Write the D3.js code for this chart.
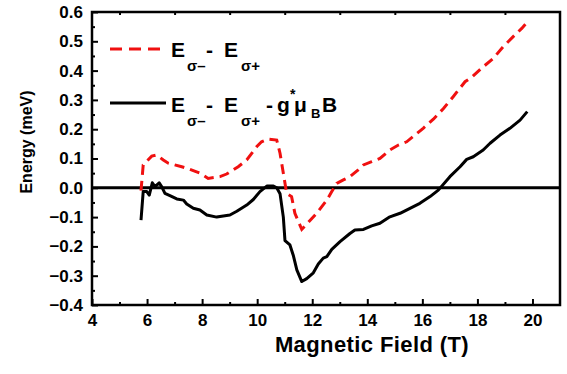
<!DOCTYPE html>
<html>
<head>
<meta charset="utf-8">
<script src="https://d3js.org/d3.v7.min.js"></script>
<style>
	body { margin: 0; background: #fff; }
	svg { display: block; font-family: "Liberation Sans", Arial, sans-serif; }
</style>
</head>
<body>
<div id="chart"></div>
<script>

// field values (T) and energies (meV)
var fieldCorr = [5.78, 5.86, 5.99, 6.08, 6.19, 6.29, 6.44, 6.53, 6.65, 6.83, 7.08, 7.32, 7.44, 7.68, 7.92, 8.17, 8.53, 8.77, 9.01, 9.26,
	9.62, 9.86, 10.1, 10.35, 10.59, 10.71, 10.83, 10.95, 11.01, 11.19, 11.31, 11.44, 11.62, 11.8, 12.04, 12.22, 12.4, 12.53, 12.71, 13.01,
	13.37, 13.55, 13.86, 14.16, 14.46, 14.82, 15.19, 15.55, 15.91, 16.28, 16.58, 17.0, 17.37, 17.61, 17.85, 18.21, 18.46, 18.82, 19.18, 19.55, 19.81];
var energyCorr = [-0.11, -0.013, -0.013, -0.025, 0.017, 0.004, 0.017, 0.004, -0.019, -0.027, -0.038, -0.042, -0.055, -0.07, -0.076, -0.093, -0.1, -0.096, -0.093, -0.08,
	-0.059, -0.04, -0.013, 0.006, 0.006, 0.0, -0.02, -0.1, -0.18, -0.195, -0.23, -0.28, -0.32, -0.31, -0.29, -0.26, -0.24, -0.235, -0.21, -0.184,
	-0.156, -0.144, -0.142, -0.13, -0.121, -0.099, -0.087, -0.07, -0.053, -0.03, -0.008, 0.038, 0.072, 0.097, 0.106, 0.129, 0.152, 0.18, 0.203, 0.231, 0.26];

var fieldDiff = [5.78, 5.86, 6.17, 6.35, 6.59, 6.77, 7.26, 7.44, 7.92, 8.22, 8.65, 8.89, 9.31, 9.62, 9.98, 10.16, 10.4, 10.71, 10.83, 10.95,
	11.07, 11.25, 11.37, 11.62, 11.8, 12.16, 12.53, 12.71, 12.89, 13.13, 13.37, 13.67, 13.86, 14.16, 14.46, 14.82, 15.13, 15.43, 15.73, 16.03,
	16.4, 16.76, 17.12, 17.55, 17.79, 18.21, 18.58, 18.94, 19.3, 19.61, 19.85];
var energyDiff = [-0.01, 0.078, 0.108, 0.112, 0.095, 0.084, 0.072, 0.067, 0.05, 0.032, 0.038, 0.047, 0.072, 0.095, 0.14, 0.157, 0.166, 0.163, 0.118, 0.05,
	-0.019, -0.03, -0.087, -0.142, -0.124, -0.087, -0.042, -0.013, 0.015, 0.027, 0.038, 0.061, 0.078, 0.089, 0.1, 0.129, 0.146, 0.157, 0.18, 0.203,
	0.234, 0.27, 0.311, 0.362, 0.377, 0.413, 0.442, 0.482, 0.516, 0.544, 0.57];

var xTicks = [4, 6, 8, 10, 12, 14, 16, 18, 20];
var yTicks = [-0.4, -0.3, -0.2, -0.1, 0.0, 0.1, 0.2, 0.3, 0.4, 0.5, 0.6];

var margin = {top: 12, right: 7, bottom: 69, left: 92},
	width = 567 - margin.left - margin.right,
	height = 374 - margin.top - margin.bottom;

var svg = d3.select("#chart").append("svg")
	.attr("width", 567)
	.attr("height", 374);

var g = svg.append("g")
	.attr("transform", "translate(" + margin.left + "," + margin.top + ")");

var x = d3.scaleLinear().domain([4, 21]).range([0, width]);
var y = d3.scaleLinear().domain([-0.4, 0.6]).range([height, 0]);

// minor ticks
var xMinor = d3.range(5, 21, 2);
var yMinor = d3.range(-0.35, 0.6, 0.1);

g.append("g")
	.attr("transform", "translate(0," + height + ")")
	.call(d3.axisBottom(x).tickValues(xMinor).tickSize(-3).tickFormat(""));
g.append("g")
	.call(d3.axisTop(x).tickValues(xMinor).tickSize(-3).tickFormat(""));
g.append("g")
	.call(d3.axisLeft(y).tickValues(yMinor).tickSize(-3).tickFormat(""));

// major ticks with labels
var xAxis = g.append("g")
	.attr("transform", "translate(0," + height + ")")
	.call(d3.axisBottom(x).tickValues(xTicks).tickSize(-6).tickPadding(9).tickFormat(d3.format("d")));

var yAxis = g.append("g")
	.call(d3.axisLeft(y).tickValues(yTicks).tickSize(-6).tickPadding(10).tickFormat(d3.format(".1f")));

g.selectAll(".tick line").attr("stroke", "#000").attr("stroke-width", 2);
g.selectAll(".domain").remove();
g.selectAll(".tick text")
	.attr("fill", "#000")
	.style("font-size", "17px")
	.style("font-weight", "bold");
yAxis.selectAll(".tick text").attr("x", -9);

// frame
g.append("rect")
	.attr("width", width)
	.attr("height", height)
	.attr("fill", "none")
	.attr("stroke", "#000")
	.attr("stroke-width", 2.5);

// zero line
g.append("line")
	.attr("x1", 0)
	.attr("x2", width)
	.attr("y1", y(0))
	.attr("y2", y(0))
	.attr("stroke", "#000")
	.attr("stroke-width", 3);

var line = d3.line()
	.x(function (d) { return x(d[0]); })
	.y(function (d) { return y(d[1]); });

g.append("path")
	.datum(d3.zip(fieldDiff, energyDiff))
	.attr("d", line)
	.attr("fill", "none")
	.attr("stroke", "#f01010")
	.attr("stroke-width", 3)
	.attr("stroke-dasharray", "10,6");

g.append("path")
	.datum(d3.zip(fieldCorr, energyCorr))
	.attr("d", line)
	.attr("fill", "none")
	.attr("stroke", "#000")
	.attr("stroke-width", 3)
	.attr("stroke-linejoin", "round");

// axis titles
svg.append("text")
	.attr("x", 372)
	.attr("y", 352)
	.attr("text-anchor", "middle")
	.style("font-size", "22px")
	.style("font-weight", "bold")
	.style("letter-spacing", "0.4px")
	.text("Magnetic Field (T)");

svg.append("text")
	.attr("transform", "translate(32,142) rotate(-90)")
	.attr("text-anchor", "middle")
	.style("font-size", "16px")
	.style("font-weight", "bold")
	.text("Energy (meV)");

// legend
var legend = svg.append("g");

legend.append("line")
	.attr("x1", 110).attr("x2", 162)
	.attr("y1", 49).attr("y2", 49)
	.attr("stroke", "#f01010")
	.attr("stroke-width", 3)
	.attr("stroke-dasharray", "12,7");

legend.append("line")
	.attr("x1", 110).attr("x2", 166)
	.attr("y1", 103).attr("y2", 103)
	.attr("stroke", "#000")
	.attr("stroke-width", 3);

// pieces of the legend label: text, x offset, baseline shift, size
var labelParts = [
	["E", 171, 0, 21],
	["σ–", 187, 14, 15],
	["-", 206, 0, 21],
	["E", 224, 0, 21],
	["σ+", 241, 14, 15]
];
var extraParts = [
	["-", 266, 0, 21],
	["g", 277, 0, 21],
	["*", 290, -13, 14],
	["μ", 294, 0, 21],
	["B", 311, 6, 13],
	["B", 322, 0, 21]
];

function legendLabel(yBase, parts) {
	legend.append("g").selectAll("text")
		.data(parts)
		.enter().append("text")
		.attr("x", function (d) { return d[1]; })
		.attr("y", function (d) { return yBase + d[2]; })
		.style("font-size", function (d) { return d[3] + "px"; })
		.style("font-weight", "bold")
		.text(function (d) { return d[0]; });
}

legendLabel(57, labelParts);
legendLabel(112, labelParts.concat(extraParts));

</script>
</body>
</html>
